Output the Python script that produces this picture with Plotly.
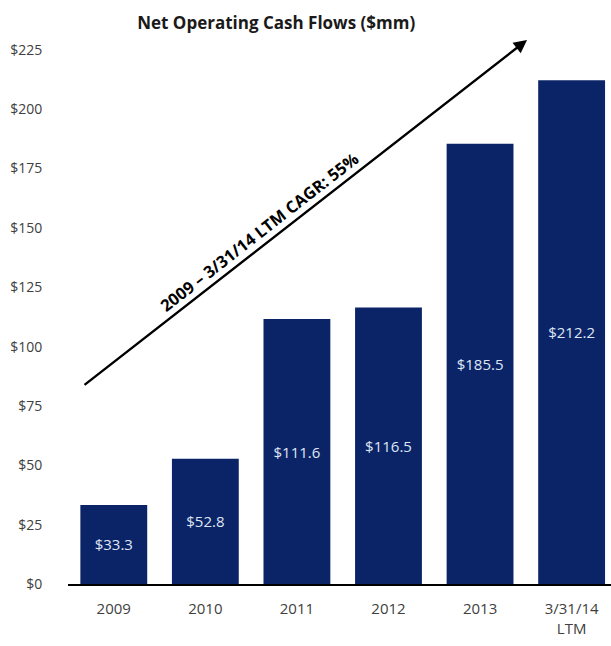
import plotly.graph_objects as go

# Net operating cash flows by period ($mm)
periods = ["2009", "2010", "2011", "2012", "2013", "3/31/14<br>LTM"]
cash_flows = [33.3, 52.8, 111.6, 116.5, 185.5, 212.2]
y_ticks = [0, 25, 50, 75, 100, 125, 150, 175, 200, 225]
title_text = "Net Operating Cash Flows ($mm)"
cagr_text = "2009 – 3/31/14 LTM CAGR: 55%"

NAVY = "#0b2467"
TEXT_GREY = "#404040"
FONT = "Open Sans, Noto Sans, sans-serif"

fig = go.Figure()
fig.add_trace(go.Bar(
    x=list(range(len(periods))),
    y=cash_flows,
    marker=dict(color=NAVY, line=dict(width=0)),
    text=[f"${v:.1f}" for v in cash_flows],
    textposition="inside",
    insidetextanchor="middle",
    textfont=dict(color="#dfe6f3", size=15, family=FONT),
    cliponaxis=False,
    hoverinfo="skip",
))

# Trend arrow with the growth-rate caption along it
fig.add_annotation(
    x=4.513, y=229.2, ax=-0.336, ay=83.4,
    xref="x", yref="y", axref="x", ayref="y",
    showarrow=True, arrowhead=2, arrowsize=1.1, arrowwidth=2.4,
    arrowcolor="black", text="",
)
fig.add_annotation(
    x=1.59, y=148.5, xref="x", yref="y",
    text=f"<b>{cagr_text}</b>", showarrow=False, textangle=-38,
    font=dict(size=16.5, color="black", family=FONT),
)

fig.update_layout(
    width=611, height=646,
    margin=dict(l=68, r=0, t=38, b=62),
    paper_bgcolor="white", plot_bgcolor="white",
    bargap=0.27,
    showlegend=False,
    title=dict(
        text=f"<b>{title_text}</b>", x=0.452, xanchor="center",
        y=0.965, yanchor="middle",
        font=dict(size=17, color="#1a1a1a", family=FONT),
    ),
    font=dict(family=FONT, color=TEXT_GREY),
)
fig.update_xaxes(
    tickmode="array", tickvals=list(range(len(periods))), ticktext=periods,
    range=[-0.5, 5.43], showgrid=False, zeroline=False,
    showline=True, linecolor="black", linewidth=2,
    ticks="outside", ticklen=10, tickcolor="white",
    tickfont=dict(size=15, color=TEXT_GREY),
    fixedrange=True,
)
fig.update_yaxes(
    range=[0, 230], tickmode="array", tickvals=y_ticks,
    ticktext=[f"${v}" for v in y_ticks],
    showgrid=False, zeroline=False, showline=False,
    ticks="outside", ticklen=22, tickcolor="white",
    tickfont=dict(size=14, color=TEXT_GREY),
    fixedrange=True,
)

fig.write_html("out.html")
